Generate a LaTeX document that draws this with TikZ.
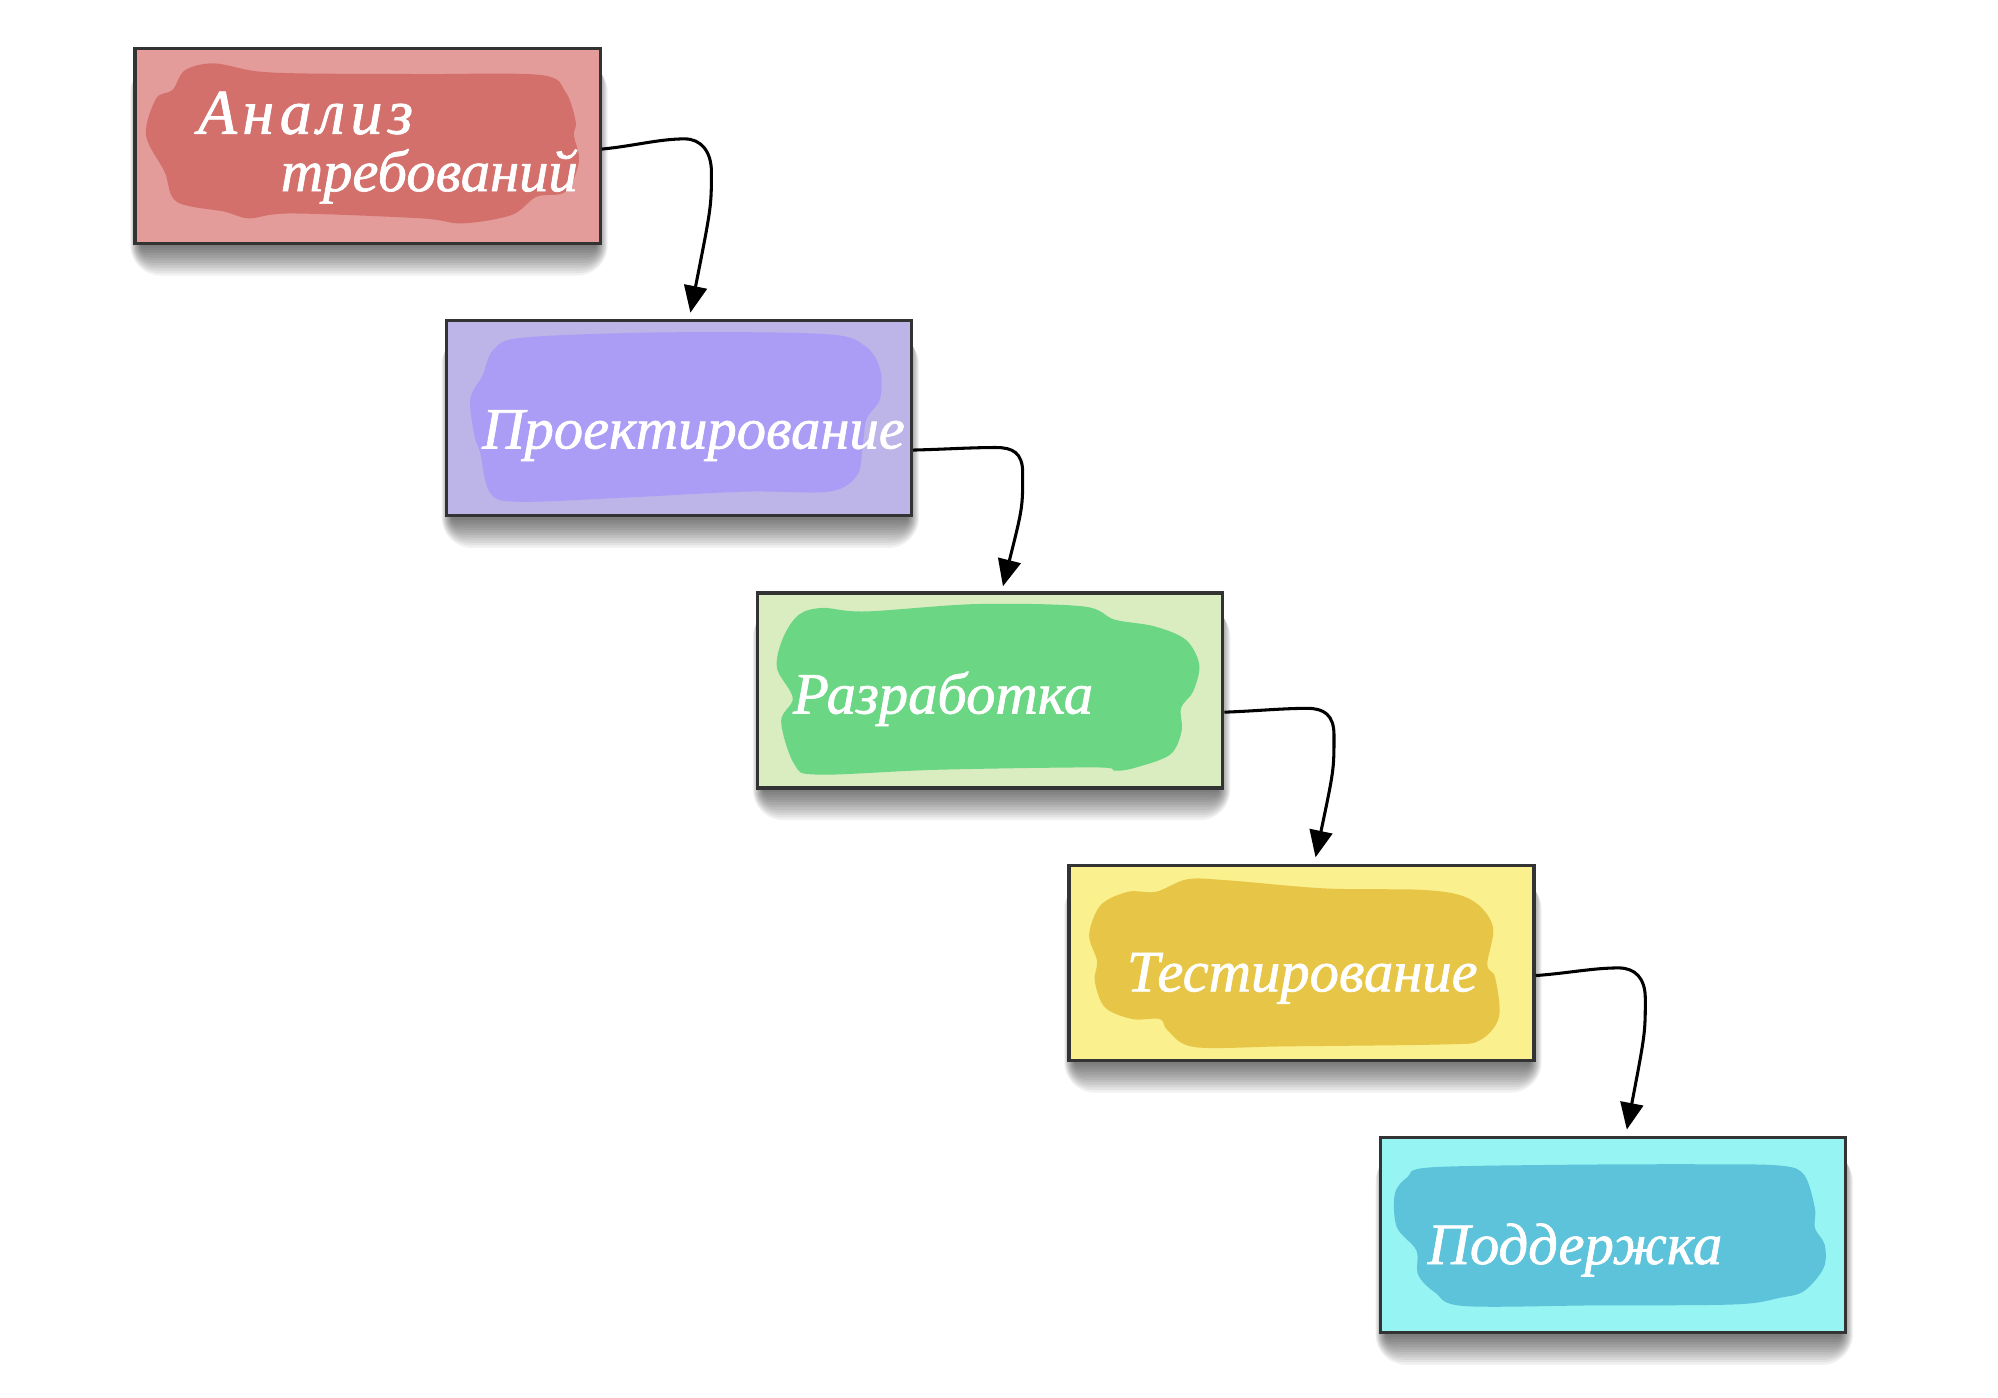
\documentclass[tikz,border=0pt]{standalone}
\usepackage{fontspec}
\newfontfamily\hand{Liberation Serif}[FakeBold=1.2]
\usetikzlibrary{arrows.meta,calc}
\definecolor{fA}{HTML}{E49C9B}\definecolor{bA}{HTML}{D4706B}
\definecolor{fB}{HTML}{BDB4E8}\definecolor{bB}{HTML}{AB9DF5}
\definecolor{fC}{HTML}{DAEDC1}\definecolor{bC}{HTML}{6BD684}
\definecolor{fD}{HTML}{FAF08E}\definecolor{bD}{HTML}{E7C546}
\definecolor{fE}{HTML}{96F5F2}\definecolor{bE}{HTML}{5CC3DA}
\newcommand{\boxshadow}[1]{%
  \foreach \k in {1,...,12}{%
    \fill[black, opacity=0.055, rounded corners=\k pt]
      ($(#1.north west)+(6-\k*0.7,12)$) rectangle ($(#1.south east)+(-5+\k*0.8,\k*2.0)$);}}
\newcommand{\flow}[3]{%
  \begin{scope}[shift={(#1)}]
    \draw[conn] (#1) .. controls (25,-#3*0.3) and (45,-#3) .. (65,-#3)
      .. controls (78,-#3) and (86,2) .. (86,18) .. controls (86,45) .. (#2);
  \end{scope}}
\newcommand{\lsp}{\kern2.2pt}
\begin{document}
\begin{tikzpicture}[x=0.5pt,y=-0.5pt,
  stagebox/.style={draw=black!80, line width=1.3pt, minimum width=182.5pt,
    minimum height=76.5pt, inner sep=0pt},
  conn/.style={draw=black, line width=1.2pt, -{Triangle[length=10.5pt,width=9pt]}},
  lbl/.style={text=white, font=\hand\itshape\fontsize{23}{26}\selectfont,
    inner sep=0pt, anchor=base west},
  blobscope/.style={x=182.5pt, y=-76.5pt}]
\fill[white] (0,0) rectangle (1568,1097);
\useasboundingbox (0,0) rectangle (1568,1097);

% box positions (invisible first, for the shadows)
\path (288.5,114.5) node[stagebox, draw=none] (b1) {}
      (532.8,328.2) node[stagebox, draw=none] (b2) {}
      (777.1,541.9) node[stagebox, draw=none] (b3) {}
      (1021.4,755.6) node[stagebox, draw=none] (b4) {}
      (1265.7,969.3) node[stagebox, draw=none] (b5) {};

\boxshadow{b1}\boxshadow{b2}\boxshadow{b3}\boxshadow{b4}\boxshadow{b5}

\node[stagebox, fill=fA] (n1) at (b1) {};
\node[stagebox, fill=fB] (n2) at (b2) {};
\node[stagebox, fill=fC] (n3) at (b3) {};
\node[stagebox, fill=fD] (n4) at (b4) {};
\node[stagebox, fill=fE] (n5) at (b5) {};

% blobs
\begin{scope}[shift={(b1.north west)}, blobscope]
\fill[bA] plot[smooth cycle, tension=0.55] coordinates {
 (0.111,0.12) (0.173,0.085) (0.262,0.125) (0.369,0.137) (0.62,0.14) (0.876,0.145)
 (0.929,0.231) (0.951,0.385) (0.947,0.453) (0.958,0.59) (0.929,0.744)
 (0.867,0.769) (0.813,0.863) (0.707,0.906) (0.618,0.88) (0.338,0.855)
 (0.249,0.88) (0.196,0.846) (0.093,0.795) (0.067,0.641) (0.027,0.453)
 (0.049,0.265) (0.084,0.222)};
\end{scope}
\begin{scope}[shift={(b2.north west)}, blobscope]
\fill[bB] plot[smooth cycle, tension=0.55] coordinates {
 (0.174,0.094) (0.479,0.068) (0.818,0.077) (0.903,0.137) (0.936,0.256)
 (0.936,0.41) (0.907,0.513) (0.898,0.667) (0.886,0.803) (0.826,0.885)
 (0.648,0.885) (0.394,0.915) (0.157,0.937) (0.097,0.889) (0.076,0.684)
 (0.064,0.6) (0.055,0.41) (0.081,0.291) (0.106,0.154)};
\end{scope}
\begin{scope}[shift={(b3.north west)}, blobscope]
\fill[bC] plot[smooth cycle, tension=0.55] coordinates {
 (0.092,0.12) (0.143,0.085) (0.236,0.103) (0.474,0.065) (0.703,0.077)
 (0.771,0.145) (0.856,0.179) (0.924,0.248) (0.953,0.376) (0.94,0.513)
 (0.914,0.598) (0.915,0.718) (0.89,0.838) (0.813,0.906) (0.771,0.92)
 (0.729,0.903) (0.389,0.915) (0.134,0.94) (0.083,0.889) (0.054,0.667)
 (0.079,0.547) (0.045,0.393) (0.058,0.239)};
\end{scope}
\begin{scope}[shift={(b4.north west)}, blobscope]
\fill[bD] plot[smooth cycle, tension=0.55] coordinates {
 (0.191,0.144) (0.258,0.08) (0.343,0.085) (0.555,0.127) (0.775,0.136)
 (0.869,0.186) (0.915,0.322) (0.903,0.517) (0.92,0.585) (0.928,0.788)
 (0.886,0.907) (0.809,0.927) (0.47,0.937) (0.275,0.941) (0.216,0.856)
 (0.199,0.797) (0.14,0.797) (0.081,0.737) (0.059,0.602) (0.064,0.5)
 (0.047,0.364) (0.072,0.212) (0.131,0.144)};
\end{scope}
\begin{scope}[shift={(b5.north west)}, blobscope]
\fill[bE] plot[smooth cycle, tension=0.55] coordinates {
 (0.107,0.162) (0.387,0.148) (0.689,0.145) (0.863,0.152) (0.915,0.2)
 (0.938,0.37) (0.938,0.472) (0.959,0.557) (0.957,0.676) (0.915,0.795)
 (0.863,0.83) (0.765,0.864) (0.462,0.869) (0.183,0.872) (0.122,0.804)
 (0.085,0.712) (0.081,0.586) (0.039,0.467) (0.035,0.296) (0.062,0.211)};
\end{scope}

% labels
\node[lbl, font=\hand\itshape\fontsize{25}{28}\selectfont] (t1a) at (155,105) {А\lsp н\lsp а\lsp л\lsp и\lsp з};
\node[lbl] (t1b) at (220,150) {требований};
\node[lbl] (t2) at (378,352) {Проектирование};
\node[lbl] (t3) at (622,560) {Разработка};
\node[lbl] (t4) at (884,778) {Тестирование};
\node[lbl] (t5) at (1120,992) {Поддержка};

% connectors
\coordinate (s1) at ($(n1.east)+(0,2.5)$);
\coordinate (s2) at ($(n2.east)+(0,25)$);
\coordinate (s3) at ($(n3.east)+(0,17)$);
\coordinate (s4) at ($(n4.east)+(0,10)$);
\coordinate (e1) at ($(n2.north)+(9,-5)$);
\coordinate (e2) at ($(n3.north)+(10,-4)$);
\coordinate (e3) at ($(n4.north)+(11,-5)$);
\coordinate (e4) at ($(n5.north)+(11,-5)$);
\flow{s1}{e1}{8}
\flow{s2}{e2}{2}
\flow{s3}{e3}{3}
\flow{s4}{e4}{6}
\end{tikzpicture}
\end{document}
